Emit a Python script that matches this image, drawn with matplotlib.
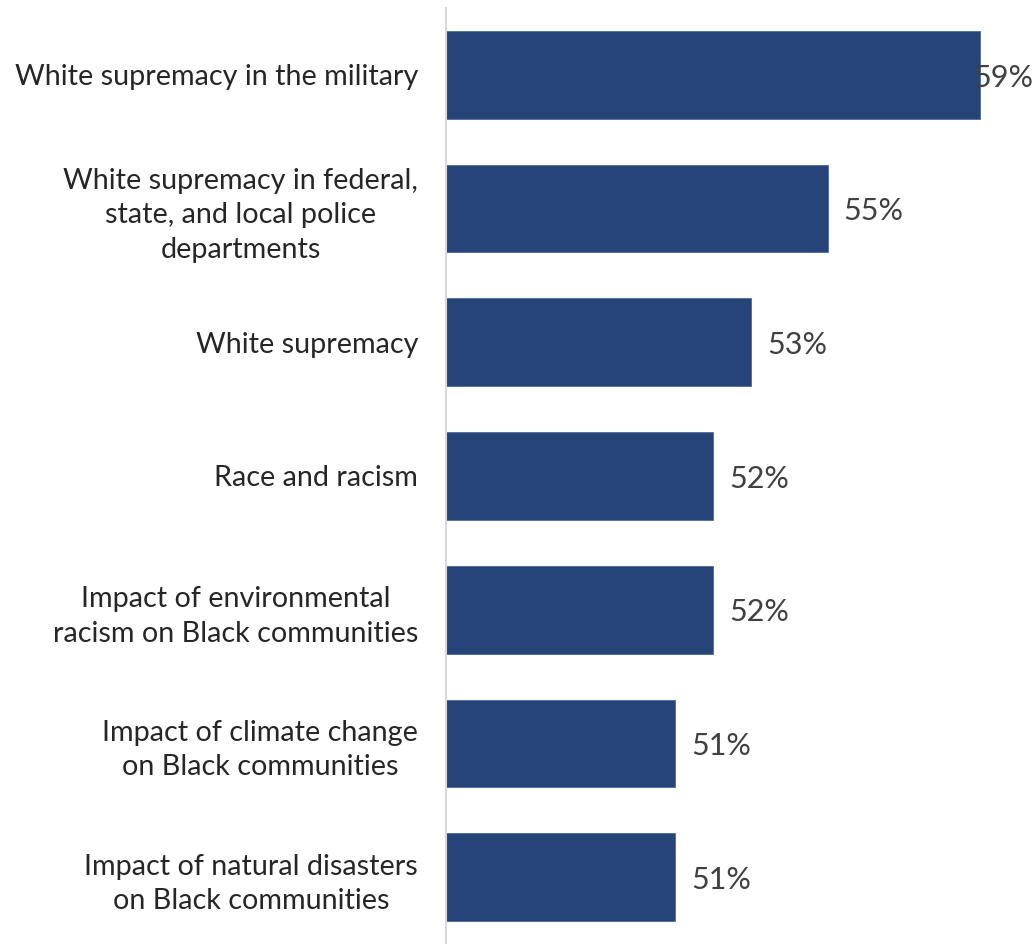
import numpy as np
import matplotlib.pyplot as plt

labels = ['White supremacy in the military',
          'White supremacy in federal,\nstate, and local police\ndepartments',
          'White supremacy',
          'Race and racism',
          'Impact of environmental\nracism on Black communities',
          'Impact of climate change\non Black communities',
          'Impact of natural disasters\non Black communities']
values = [59, 55, 53, 52, 52, 51, 51]

plt.rcParams['font.family'] = ['Lato', 'DejaVu Sans']

fig = plt.figure(figsize=(10.35, 9.44), dpi=100)
ax = fig.add_axes([446/1035, 0, 1 - 446/1035, 1 - 8/944])

y = np.arange(len(values))
ax.barh(y, values, height=0.655, left=0, color='#264478', edgecolor='#4a6a9e', linewidth=0.6)
xmax = 60.43
ax.set_xlim(45, xmax)
ax.set_ylim(len(values) - 0.5, -0.5)

for yi, v in zip(y, values):
    if v + 0.42 + 1.6 > xmax:
        # label would run off the edge: pull it back over the bar end
        ax.text(xmax - 0.05, yi + 0.02, f'{v}%', va='center', ha='right', fontsize=22, color='#404040')
    else:
        ax.text(v + 0.42, yi + 0.02, f'{v}%', va='center', ha='left', fontsize=22, color='#404040')

ax.set_yticks(y)
ax.set_yticklabels(labels, fontsize=20.7, color='#262626', ha='right',
                   multialignment='center', linespacing=1.4)
ax.tick_params(axis='y', length=0, pad=20)
ax.set_xticks([])
for s in ['top', 'right', 'bottom']:
    ax.spines[s].set_visible(False)
ax.spines['left'].set_color('#d9d9d9')
ax.spines['left'].set_linewidth(1.5)

fig.savefig('out.png', dpi=100)
